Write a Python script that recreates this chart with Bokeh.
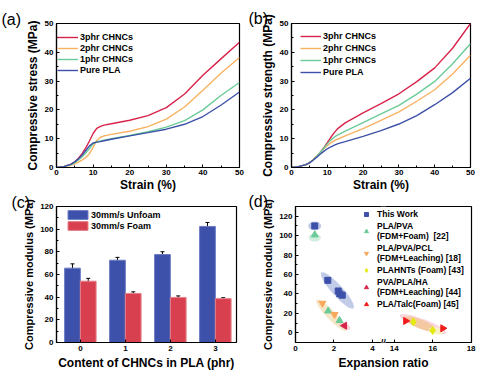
from bokeh.plotting import figure
from bokeh.layouts import row, column
from bokeh.models import (Legend, LegendItem, Label, Whisker, ColumnDataSource,
                          FixedTicker, Range1d, BasicTicker, TeeHead, Title)
from bokeh.embed import file_html
from bokeh.resources import INLINE
import math

FONT = "Liberation Sans"

# ---------------- data ----------------
strain = [0, 2, 4, 5, 6, 7, 8, 9, 10, 11, 12, 13, 15, 20, 25, 30, 35, 40, 45, 50]
series_names = ["3phr CHNCs", "2phr CHNCs", "1phr CHNCs", "Pure PLA"]
series_colors = ["#D7234B", "#F9B262", "#6ACB98", "#3D50A8"]

stress_3phr = [0, 0.3, 1.2, 2.0, 3.2, 4.8, 6.8, 9.2, 11.8, 13.6, 14.3, 14.7, 15.2, 16.4, 18.0, 20.8, 25.5, 32.0, 37.8, 43.5]
stress_2phr = [0, 0.2, 0.8, 1.3, 1.9, 2.6, 3.5, 4.8, 7.0, 9.4, 10.5, 11.0, 11.5, 12.6, 14.2, 16.8, 21.0, 26.8, 32.8, 38.2]
stress_1phr = [0, 0.3, 1.0, 1.7, 2.6, 3.7, 5.0, 6.6, 8.2, 8.9, 9.2, 9.5, 10.0, 11.1, 12.4, 14.0, 16.3, 20.0, 25.1, 29.5]
stress_pure = [0, 0.3, 1.2, 2.0, 3.0, 4.3, 5.9, 7.5, 8.5, 8.8, 9.0, 9.3, 9.8, 11.0, 12.1, 13.3, 15.0, 17.7, 21.7, 26.2]

strength_3phr = [0, 0.3, 1.0, 1.6, 2.6, 3.8, 5.2, 6.8, 8.6, 10.5, 12.2, 13.6, 15.5, 19.0, 22.2, 25.6, 29.8, 34.6, 41.4, 50.0]
strength_2phr = [0, 0.3, 1.0, 1.6, 2.6, 3.8, 5.1, 6.4, 7.6, 8.6, 9.3, 9.9, 11.0, 13.5, 16.4, 19.3, 23.0, 27.0, 32.5, 39.0]
strength_1phr = [0, 0.3, 1.0, 1.6, 2.6, 3.8, 5.2, 6.7, 8.2, 9.6, 10.6, 11.3, 12.6, 15.6, 18.6, 21.6, 25.5, 29.9, 36.0, 43.0]
strength_pure = [0, 0.3, 1.0, 1.6, 2.5, 3.5, 4.6, 5.6, 6.5, 7.2, 7.8, 8.3, 9.0, 10.8, 12.8, 15.1, 18.0, 21.8, 26.0, 31.0]

content = [0, 1, 2, 3]
modulus_unfoam = [65.6, 72.6, 77.6, 102.4]
modulus_unfoam_err = [3.8, 2.5, 2.5, 3.5]
modulus_foam = [54.1, 43.3, 39.8, 38.7]
modulus_foam_err = [2.5, 1.4, 1.3, 0.8]

# panel (d)
work_x = [1.0, 1.68, 2.22, 2.3, 2.43]
work_y = [110, 54, 43, 40, 38.7]
pva_x = [1.0, 1.7, 2.29]
pva_y = [100.8, 22.5, 12.6]
pcl_x = [1.4, 2.03]
pcl_y = [30.4, 18.8]
hnt_x = [15.0, 16.0]
hnt_y = [11.2, 2.3]
ha_x = [2.55]
ha_y = [7.3]
talc_x = [14.6, 16.53]
talc_y = [12.2, 4.6]

ell_x = [2.18, 1.0, 1.0, 1.87, 2.55, 15.5, 15.35, 16.18]
ell_y = [43.6, 110, 98, 17.9, 7.3, 8.9, 9.0, 2.0]
ell_w = [48, 9, 8, 43, 13, 50, 34, 15]
ell_h = [11, 13, 12, 9, 6, 10, 9, 7]
ell_deg = [-48, 90, 90, -46, -30, -21, -22, -10]
ell_color = ["#AEB9DF", "#AEB9DF", "#BFE8D3", "#F3DDB5", "#F7C3CC", "#F9C9D2", "#F2C48C", "#F7F7B8"]

x_left_ticks = [0, 2, 4]
x_right_ticks = [14, 16, 18]
GAP = 1.13
OFFSET = round(x_right_ticks[0] - x_left_ticks[-1] - GAP, 2)


def tx(vals):
    return [round(v - OFFSET, 3) if v >= 10 else v for v in vals]


# ---------------- helpers ----------------
def make_fig(w, h, l, r, t, b, xr, yr):
    p = figure(width=w, height=h, x_range=xr, y_range=yr, output_backend="svg",
               toolbar_location=None, min_border_left=l, min_border_right=r,
               min_border_top=t, min_border_bottom=b)
    p.xgrid.visible = False
    p.ygrid.visible = False
    p.outline_line_color = "black"
    p.outline_line_alpha = 1
    p.outline_line_width = 1.2
    p.background_fill_color = "white"
    p.border_fill_color = "white"
    return p


def style_axes(p, xlabel, ylabel, ysize="12px", tight_x=False):
    p.xaxis.axis_label = xlabel
    p.yaxis.axis_label = ylabel
    for ax in (p.xaxis[0], p.yaxis[0]):
        ax.axis_label_text_font = FONT
        ax.axis_label_text_font_style = "bold"
        ax.axis_label_text_font_size = "12px"
        ax.axis_label_text_color = "black"
        ax.major_label_text_font = FONT
        ax.major_label_text_font_style = "bold"
        ax.major_label_text_font_size = "8px"
        ax.major_label_text_color = "black"
        ax.major_tick_in = 3
        ax.major_tick_out = 0
        ax.minor_tick_in = 2
        ax.minor_tick_out = 0
        ax.axis_line_width = 1.2
        ax.major_tick_line_width = 1
        ax.major_label_standoff = 3
        ax.axis_label_standoff = 2
    p.yaxis[0].axis_label_text_font_size = ysize
    if tight_x:
        p.xaxis[0].major_label_standoff = 2
        p.xaxis[0].axis_label_standoff = 0


def panel_label(p, txt, offset, standoff):
    p.add_layout(Title(text=txt, align="left", offset=offset, standoff=standoff,
                       text_font=FONT, text_font_size="16px", text_font_style="normal",
                       text_color="black"), "above")


def line_legend(p, renderers, x, y, spacing):
    items = [LegendItem(label=n, renderers=[r]) for n, r in zip(series_names, renderers)]
    lg = Legend(items=items, location=(x, y), glyph_width=21, glyph_height=10,
                label_height=10, label_standoff=2, spacing=spacing, padding=2, margin=0,
                border_line_color=None, background_fill_alpha=0,
                label_text_font=FONT, label_text_font_style="bold",
                label_text_font_size="9px", label_text_color="black")
    p.add_layout(lg)


# ---------------- panel (a) ----------------
pa = make_fig(248, 194, 56, 9, 21, 26, Range1d(0, 50), Range1d(0, 50))
style_axes(pa, "Strain (%)", "Compressive stress (MPa)", tight_x=True)
pa.xaxis.ticker = BasicTicker(desired_num_ticks=6, num_minor_ticks=2)
pa.yaxis.ticker = BasicTicker(desired_num_ticks=6, num_minor_ticks=2)
ra = []
for ys, c in zip([stress_3phr, stress_2phr, stress_1phr, stress_pure], series_colors):
    ra.append(pa.line(strain, ys, line_color=c, line_width=1.4))
line_legend(pa, ra, 1, 92, 1)
panel_label(pa, "(a)", -55, -9)

# ---------------- panel (b) ----------------
pb = make_fig(242, 194, 43, 20, 23, 26, Range1d(0, 50), Range1d(0, 50))
style_axes(pb, "Strain (%)", "Compressive strength (MPa)", tight_x=True)
pb.xaxis.ticker = BasicTicker(desired_num_ticks=6, num_minor_ticks=2)
pb.yaxis.ticker = BasicTicker(desired_num_ticks=6, num_minor_ticks=2)
rb = []
for ys, c in zip([strength_3phr, strength_2phr, strength_1phr, strength_pure], series_colors):
    rb.append(pb.line(strain, ys, line_color=c, line_width=1.4))
line_legend(pb, rb, 9, 145 - 3 - 52, 2)
panel_label(pb, "(b)", -43, -7)

# ---------------- panel (c) ----------------
pc = make_fig(248, 178, 56, 12, 7, 27, Range1d(-0.53, 3.47), Range1d(0, 120))
style_axes(pc, "Content of CHNCs in PLA (phr)", "Compressive modulus (MPa)", "11px")
pc.xaxis.ticker = FixedTicker(ticks=content)
pc.yaxis.ticker = BasicTicker(desired_num_ticks=7, num_minor_ticks=2)
BW = 0.35
src = ColumnDataSource(dict(
    xu=[c - BW / 2 for c in content], xf=[c + BW / 2 for c in content],
    u=modulus_unfoam, f=modulus_foam,
    uu=[a + e for a, e in zip(modulus_unfoam, modulus_unfoam_err)],
    ul=[a - e for a, e in zip(modulus_unfoam, modulus_unfoam_err)],
    fu=[a + e for a, e in zip(modulus_foam, modulus_foam_err)],
    fl=[a - e for a, e in zip(modulus_foam, modulus_foam_err)],
))
rbu = pc.vbar(x="xu", top="u", width=BW, source=src, fill_color="#3D50AA",
              line_color="#6C7CC4", line_width=1)
rbf = pc.vbar(x="xf", top="f", width=BW, source=src, fill_color="#D8404F",
              line_color="#E5808A", line_width=1)
for base, up, lo in (("xu", "uu", "ul"), ("xf", "fu", "fl")):
    pc.add_layout(Whisker(source=src, base=base, upper=up, lower=lo, line_color="black",
                          line_width=1,
                          upper_head=TeeHead(size=4, line_color="black", line_width=1),
                          lower_head=TeeHead(size=4, line_color="black", line_width=1)))
lgc = Legend(items=[LegendItem(label="30mm/s Unfoam", renderers=[rbu]),
                    LegendItem(label="30mm/s Foam", renderers=[rbf])],
             location=(9, 144 - 5 - 28), glyph_width=25, glyph_height=11,
             label_height=11, label_standoff=1, spacing=0, padding=2, margin=0,
             border_line_color=None, background_fill_alpha=0,
             label_text_font=FONT, label_text_font_style="bold",
             label_text_font_size="9px", label_text_color="black")
pc.add_layout(lgc)
panel_label(pc, "(c)", -45, -9)

# ---------------- panel (d) ----------------
pd_ = make_fig(242, 178, 47, 19, 8, 29, Range1d(0, x_right_ticks[-1] - OFFSET + 0.02),
               Range1d(-10, 130))
style_axes(pd_, "Expansion ratio", "Compressive modulus (MPa)", "11px")
xt_ticks = [float(t) for t in x_left_ticks] + [round(t - OFFSET, 2) for t in x_right_ticks]
pd_.xaxis.ticker = FixedTicker(ticks=xt_ticks)
pd_.xaxis.major_label_overrides = {t: str(l) for t, l in zip(xt_ticks, x_left_ticks + x_right_ticks)}
pd_.yaxis.ticker = FixedTicker(ticks=[0, 20, 40, 60, 80, 100, 120],
                               minor_ticks=[-10, 10, 30, 50, 70, 90, 110, 130])

pd_.ellipse(x=tx(ell_x), y=ell_y, width=ell_w, height=ell_h,
            angle=[math.radians(a) for a in ell_deg], width_units="screen",
            height_units="screen", fill_color=ell_color, fill_alpha=0.75, line_color=None)

m_work = pd_.scatter(tx(work_x), work_y, marker="square", size=6, fill_color="#3D50AA",
                     line_color="#3D50AA")
m_pva = pd_.scatter(tx(pva_x), pva_y, marker="triangle", size=7, fill_color="#6ACB98",
                    line_color="#6ACB98")
m_pcl = pd_.scatter(tx(pcl_x), pcl_y, marker="inverted_triangle", size=7,
                    fill_color="#F7A85A", line_color="#F7A85A")
m_hnt = pd_.scatter(tx(hnt_x), hnt_y, marker="diamond", size=8, fill_color="#E4EA10",
                    line_color="#E4EA10")
m_ha = pd_.scatter(tx(ha_x), ha_y, marker="triangle", angle=math.pi / 2, size=7,
                   fill_color="#D7234B", line_color="#D7234B")
m_talc = pd_.scatter(tx(talc_x), talc_y, marker="triangle", angle=-math.pi / 2, size=7,
                     fill_color="#F01C1C", line_color="#F01C1C")

lgd = Legend(items=[
    LegendItem(label="This Work", renderers=[m_work]),
    LegendItem(label="PLA/PVA\n(FDM+Foam)  [22]", renderers=[m_pva]),
    LegendItem(label="PLA/PVA/PCL\n(FDM+Leaching) [18]", renderers=[m_pcl]),
    LegendItem(label="PLAHNTs (Foam) [43]", renderers=[m_hnt]),
    LegendItem(label="PVA/PLA/HA\n(FDM+Leaching) [44]", renderers=[m_ha]),
    LegendItem(label="PLA/Talc(Foam) [45]", renderers=[m_talc]),
], location=(65, 33), glyph_width=12, glyph_height=10, label_height=10,
    label_standoff=5, spacing=2, padding=2, margin=0, border_line_color=None,
    background_fill_alpha=0, label_text_font=FONT, label_text_font_style="bold",
    label_text_font_size="8.5px", label_text_color="black", label_text_line_height=1.3)
pd_.add_layout(lgd)

brk = (x_left_ticks[-1] + x_right_ticks[0] - OFFSET) / 2
for yy in (141, 0):
    pd_.add_layout(Label(x=brk, y=yy, x_units="data", y_units="screen", text="//",
                         text_font=FONT, text_font_style="bold", text_font_size="9px",
                         text_align="center", text_baseline="middle", text_color="black",
                         background_fill_color="white", background_fill_alpha=1))
panel_label(pd_, "(d)", -47, -7)

layout = column(row(pa, pb), row(pc, pd_))
open("out.html", "w").write(file_html(layout, INLINE))
